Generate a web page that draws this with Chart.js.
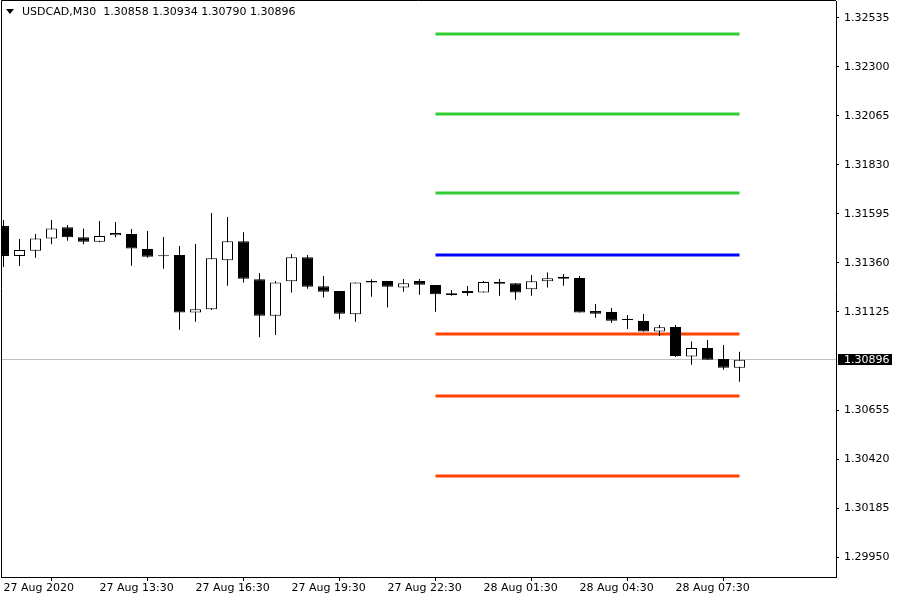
<!DOCTYPE html>
<html lang="en">
<head>
    <meta charset="UTF-8">
    <title>USDCAD,M30</title>
    <script src="https://cdn.jsdelivr.net/npm/chart.js"></script>
    <style>
        body { margin: 0; background: #fff; }
        #chart { display: block; }
    </style>
</head>
<body>
    <canvas id="chart" width="900" height="600"></canvas>

    <script>
        // 30 minute bars, 27 Aug 10:30 .. 28 Aug 09:30
        const symbol = "USDCAD,M30";
        const opens  = [1.31537,1.31394,1.31419,1.31478,1.31531,1.31483,1.31462,1.31493,1.31499,1.31427,
                        1.31392,1.31398,1.31122,1.31138,1.31373,1.31464,1.31282,1.31107,1.31272,1.31387,
                        1.31248,1.31226,1.31114,1.31274,1.31274,1.31243,1.31274,1.31254,1.31215,1.31216,
                        1.31219,1.31269,1.31263,1.31234,1.31272,1.31294,1.31288,1.31130,1.31125,1.31087,
                        1.31082,1.31031,1.31053,1.30911,1.30952,1.30900,1.30858];
        const highs  = [1.31566,1.31475,1.31499,1.31566,1.31542,1.31526,1.31561,1.31557,1.31523,1.31513,
                        1.31485,1.31442,1.31451,1.31600,1.31581,1.31507,1.31312,1.31274,1.31403,1.31398,
                        1.31298,1.31226,1.31267,1.31282,1.31274,1.31283,1.31283,1.31254,1.31230,1.31250,
                        1.31274,1.31283,1.31263,1.31302,1.31315,1.31307,1.31298,1.31163,1.31144,1.31111,
                        1.31115,1.31063,1.31063,1.30983,1.30991,1.30967,1.30934];
        const lows   = [1.31341,1.31346,1.31385,1.31450,1.31467,1.31450,1.31460,1.31483,1.31347,1.31385,
                        1.31333,1.31040,1.31078,1.31135,1.31251,1.31266,1.31004,1.31015,1.31218,1.31237,
                        1.31194,1.31090,1.31078,1.31198,1.31146,1.31222,1.31208,1.31126,1.31203,1.31203,
                        1.31219,1.31203,1.31184,1.31203,1.31242,1.31251,1.31122,1.31098,1.31074,1.31043,
                        1.31031,1.31010,1.30909,1.30872,1.30896,1.30848,1.30790];
        const closes = [1.31394,1.31422,1.31478,1.31526,1.31483,1.31462,1.31489,1.31504,1.31429,1.31390,
                        1.31392,1.31122,1.31138,1.31383,1.31464,1.31285,1.31107,1.31267,1.31387,1.31246,
                        1.31222,1.31117,1.31267,1.31266,1.31246,1.31263,1.31256,1.31210,1.31207,1.31226,
                        1.31269,1.31261,1.31218,1.31272,1.31287,1.31285,1.31122,1.31117,1.31083,1.31087,
                        1.31031,1.31052,1.30914,1.30952,1.30896,1.30858,1.30896];

        // daily pivot levels (R3..S3), drawn from the 28 Aug 00:00 bar to the last bar
        const pivotLevels = [1.32458, 1.32075, 1.31696, 1.31398, 1.31020, 1.30722, 1.30338];
        const pivotColors = ["#32cd32", "#32cd32", "#32cd32", "#0000ff", "#ff4500", "#ff4500", "#ff4500"];
        const pivotFrom = 27;
        const pivotTo = 46;

        // axis ticks
        const timeTickIdx = [0, 6, 12, 18, 24, 30, 36, 42];
        const timeLabels = ["27 Aug 2020", "27 Aug 13:30", "27 Aug 16:30", "27 Aug 19:30",
                            "27 Aug 22:30", "28 Aug 01:30", "28 Aug 04:30", "28 Aug 07:30"];
        const priceTicks = [1.29950, 1.30185, 1.30420, 1.30655, 1.31125, 1.31360,
                            1.31595, 1.31830, 1.32065, 1.32300, 1.32535];

        const FONT = '"DejaVu Sans", sans-serif';
        const last = closes.length - 1;

        const wicks = opens.map((o, i) => ({ x: i, y: [lows[i], highs[i]] }));
        const bodies = opens.map((o, i) => ({ x: i, y: [o, closes[i]] }));
        const bodyColors = opens.map((o, i) => closes[i] >= o ? "#ffffff" : "#000000");

        const pivotSets = pivotLevels.map((lvl, i) => ({
            type: "line",
            data: [{ x: pivotFrom, y: lvl }, { x: pivotTo, y: lvl }],
            borderColor: pivotColors[i],
            borderWidth: 3,
            borderCapStyle: "butt",
            pointRadius: 0,
            order: 3
        }));

        const mt4Frame = {
            id: "mt4Frame",
            beforeDatasetsDraw(chart) {
                const { ctx, chartArea: a, scales } = chart;
                const py = Math.floor(scales.y.getPixelForValue(closes[last])) + 0.5;
                ctx.save();
                ctx.strokeStyle = "#c0c0c0";
                ctx.lineWidth = 1;
                ctx.beginPath();
                ctx.moveTo(a.left, py);
                ctx.lineTo(a.right, py);
                ctx.stroke();
                ctx.restore();
            },
            afterDraw(chart) {
                const { ctx, chartArea: a, scales } = chart;
                ctx.save();
                // left + top frame
                ctx.strokeStyle = "#000";
                ctx.lineWidth = 1;
                ctx.beginPath();
                ctx.moveTo(a.left + 0.5, a.bottom);
                ctx.lineTo(a.left + 0.5, a.top - 0.5);
                ctx.lineTo(a.right, a.top - 0.5);
                ctx.stroke();

                // header
                ctx.fillStyle = "#000";
                ctx.beginPath();
                ctx.moveTo(6, 9);
                ctx.lineTo(14, 9);
                ctx.lineTo(10, 14);
                ctx.closePath();
                ctx.fill();
                ctx.font = "11px " + FONT;
                ctx.textBaseline = "middle";
                ctx.textAlign = "left";
                const hdr = symbol + "  " + [opens[last], highs[last], lows[last], closes[last]]
                    .map(v => v.toFixed(5)).join(" ");
                ctx.fillText(hdr, 22, 12);

                // current price box
                const py = Math.floor(scales.y.getPixelForValue(closes[last])) + 0.5;
                ctx.fillStyle = "#000";
                ctx.fillRect(a.right + 2, py - 5.5, 54, 11);
                ctx.fillStyle = "#fff";
                ctx.fillText(closes[last].toFixed(5), a.right + 8, py + 0.5);
                ctx.restore();
            }
        };

        new Chart(document.getElementById("chart"), {
            type: "bar",
            data: {
                datasets: [
                    ...pivotSets,
                    {
                        data: wicks,
                        backgroundColor: "#000",
                        borderWidth: 0,
                        barThickness: 1,
                        grouped: false,
                        inflateAmount: 0,
                        order: 2
                    },
                    {
                        data: bodies,
                        backgroundColor: bodyColors,
                        borderColor: "#000",
                        borderWidth: 1,
                        borderSkipped: false,
                        barThickness: 11,
                        minBarLength: 1,
                        grouped: false,
                        inflateAmount: 0,
                        order: 1
                    }
                ]
            },
            options: {
                responsive: false,
                devicePixelRatio: 1,
                animation: false,
                layout: { padding: { left: 1, top: 1, right: 0, bottom: 0 } },
                plugins: {
                    legend: { display: false },
                    tooltip: { enabled: false }
                },
                scales: {
                    x: {
                        type: "linear",
                        min: -0.15625,
                        max: 52.03125,
                        offset: false,
                        afterFit: s => { s.height = 23; s.paddingLeft = 0; s.paddingRight = 0; },
                        afterBuildTicks: s => { s.ticks = timeTickIdx.map(v => ({ value: v })); },
                        grid: { drawOnChartArea: false, color: "#000", tickLength: 4 },
                        border: { color: "#000", width: 1 },
                        ticks: {
                            autoSkip: false,
                            maxRotation: 0,
                            align: "start",
                            padding: 1,
                            color: "#000",
                            font: { family: FONT, size: 11 },
                            callback: v => timeLabels[timeTickIdx.indexOf(v)]
                        }
                    },
                    y: {
                        type: "linear",
                        position: "right",
                        min: 1.298541,
                        max: 1.326165,
                        afterFit: s => { s.width = 64; s.paddingTop = 0; s.paddingBottom = 0; },
                        afterBuildTicks: s => { s.ticks = priceTicks.map(v => ({ value: v })); },
                        grid: { drawOnChartArea: false, color: "#000", tickLength: 3 },
                        border: { color: "#000", width: 1 },
                        ticks: {
                            padding: 5,
                            color: "#000",
                            font: { family: FONT, size: 11 },
                            callback: v => v.toFixed(5)
                        }
                    }
                }
            },
            plugins: [mt4Frame]
        });
    </script>
</body>
</html>
